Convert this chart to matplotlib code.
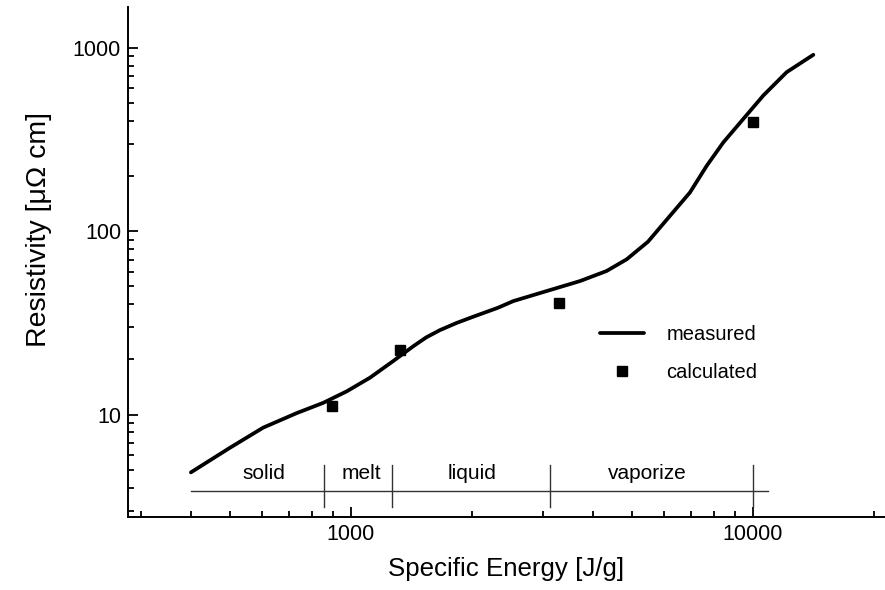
import matplotlib
matplotlib.use("Agg")
import matplotlib.pyplot as plt
from matplotlib.ticker import LogLocator, FuncFormatter, NullFormatter

plt.rcParams["font.family"] = ["Liberation Sans", "DejaVu Sans"]

# measured curve
energy_measured = [400, 500, 605, 733, 853, 976, 1115, 1274, 1429, 1540, 1665, 1830, 2015,
                   2324, 2534, 3069, 3714, 4325, 4853, 5480, 6148, 6970, 7670, 8440, 9460,
                   10610, 12130, 14130]
resist_measured = [4.85, 6.6, 8.5, 10.2, 11.6, 13.4, 15.9, 19.6, 23.6, 26.4, 28.9, 31.6, 34.2,
                   38.3, 41.6, 47.2, 53.5, 60.7, 70.3, 87.6, 117.8, 162.6, 227, 305, 409,
                   549, 736, 915]

# calculated points
energy_calc = [896, 1324, 3290, 10000]
resist_calc = [11.1, 22.6, 40.7, 393]

# phase bar
phase_edges = [857, 1265, 3126, 10000]
phase_start = 400
phase_end = 10900
phase_names = ["solid", "melt", "liquid", "vaporize"]
phase_label_x = [608, 1059, 2000, 5450]

fig = plt.figure(figsize=(8.85, 5.9), dpi=100)
ax = fig.add_axes([128 / 885, 1 - 517 / 590, 757 / 885, 510 / 590])

ax.plot(energy_measured, resist_measured, color="black", lw=2.7, solid_capstyle="round",
        solid_joinstyle="round", label="measured")
ax.plot(energy_calc, resist_calc, ls="none", marker="s", ms=7.5, color="black",
        label="calculated")

# phase annotation bar
ax.plot([phase_start, phase_end], [3.85, 3.85], color="#333333", lw=1.0)
for e in phase_edges:
    ax.plot([e, e], [3.14, 5.33], color="#333333", lw=1.0)
for name, x in zip(phase_names, phase_label_x):
    ax.text(x, 4.78, name, ha="center", va="center", fontsize=15)

ax.set_xscale("log")
ax.set_yscale("log")
ax.set_xlim(279, 21300)
ax.set_ylim(2.77, 1667)

fmt = FuncFormatter(lambda v, p: "%d" % round(v))
ax.xaxis.set_major_formatter(fmt)
ax.yaxis.set_major_formatter(fmt)
ax.xaxis.set_minor_locator(LogLocator(base=10, subs=range(2, 10)))
ax.yaxis.set_minor_locator(LogLocator(base=10, subs=range(2, 10)))
ax.xaxis.set_minor_formatter(NullFormatter())
ax.yaxis.set_minor_formatter(NullFormatter())

ax.tick_params(which="both", direction="in", width=1.3, labelsize=15.5, pad=5)
ax.tick_params(which="major", length=7.5)
ax.tick_params(which="minor", length=4.3)

for s in ["top", "right"]:
    ax.spines[s].set_visible(False)
for s in ["left", "bottom"]:
    ax.spines[s].set_linewidth(1.4)

ax.set_xlabel("Specific Energy [J/g]", fontsize=18.6, labelpad=9)
ax.set_ylabel("Resistivity [μΩ cm]", fontsize=20.5)
ax.yaxis.set_label_coords(-0.100, 0.563)

ax.legend(loc="upper left", bbox_to_anchor=((600 - 128) / 757, (517 - 325) / 510),
          frameon=False, fontsize=14.5, handlelength=2.2, handletextpad=1.1,
          labelspacing=0.95, borderpad=0, borderaxespad=0)

fig.savefig("out.png", dpi=100)
